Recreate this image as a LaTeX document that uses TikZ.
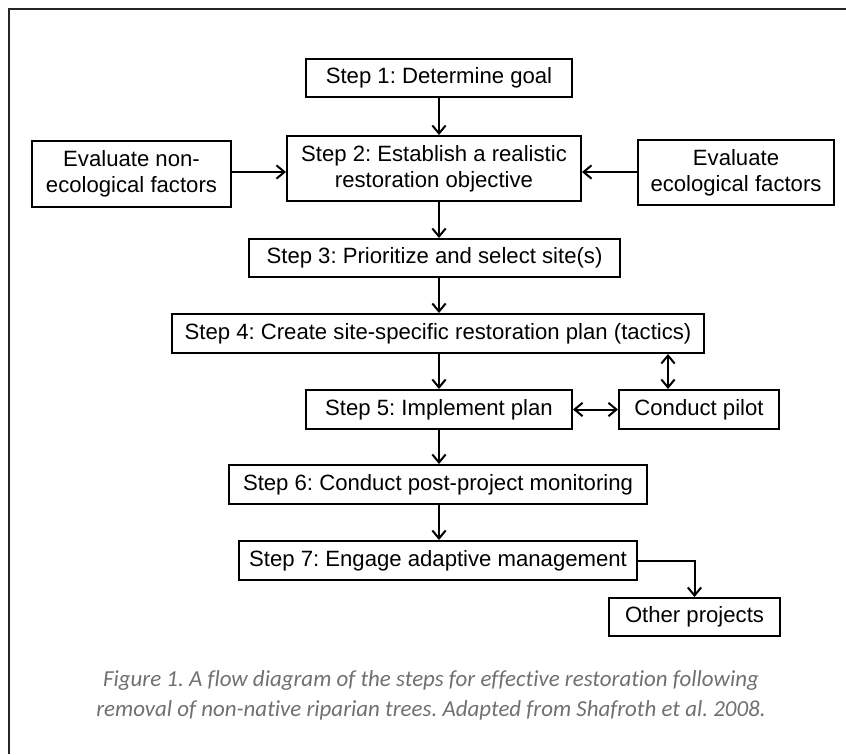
\documentclass[tikz,border=0pt]{standalone}
\usepackage{fontspec}
\setmainfont{Liberation Sans}
\newfontfamily\capfont[Ligatures=NoCommon]{Carlito}
\usepackage{tikz}
\usetikzlibrary{arrows.meta}
\definecolor{capgray}{RGB}{112,112,112}
\frenchspacing

\begin{document}
\begin{tikzpicture}[x=0.75pt, y=-0.75pt,
        stepbox/.style={draw, line width=1.5pt, align=center, inner sep=2pt,
            font=\fontsize{16.6}{19.5}\selectfont},
        flow/.style={line width=1.5pt, -{Straight Barb[length=6pt,width=10pt,line width=1.5pt]}},
        flowboth/.style={line width=1.5pt, {Straight Barb[length=6pt,width=10pt,line width=1.5pt]}-{Straight Barb[length=6pt,width=10pt,line width=1.5pt]}}]
        \useasboundingbox (0,0) rectangle (846,754);
        \draw[line width=1.2pt, black!85] (846,9) -- (9,9) -- (9,754);

        \node[stepbox, minimum width=199.5pt, minimum height=28.5pt] at (439,78) (step-1) {Step 1: Determine goal};
        \node[stepbox, minimum width=220.5pt, minimum height=48.75pt] at (434,168.5) (step-2) {Step 2: Establish a realistic\\restoration objective};
        \node[stepbox, minimum width=149.25pt, minimum height=49.5pt] at (131.5,174) (non-eco) {Evaluate non-\\ecological factors};
        \node[stepbox, minimum width=147pt, minimum height=48.75pt] at (736,172.5) (eco) {Evaluate\\ecological factors};
        \node[stepbox, minimum width=278.25pt, minimum height=28.5pt] at (434.5,258) (step-3) {Step 3: Prioritize and select site(s)};
        \node[stepbox, minimum width=399pt, minimum height=29.25pt] at (438,333.5) (step-4) {Step 4: Create site-specific restoration plan (tactics)};
        \node[stepbox, minimum width=199.5pt, minimum height=29.25pt] at (439,409.5) (step-5) {Step 5: Implement plan};
        \node[stepbox, minimum width=120pt, minimum height=29.25pt] at (699,409.5) (pilot) {Conduct pilot};
        \node[stepbox, minimum width=313.5pt, minimum height=29.25pt] at (438,484.5) (step-6) {Step 6: Conduct post-project monitoring};
        \node[stepbox, minimum width=298.5pt, minimum height=29.25pt] at (438,560.5) (step-7) {Step 7: Engage adaptive management};
        \node[stepbox, minimum width=128.25pt, minimum height=28.5pt] at (694.5,617) (other-projects) {Other projects};

        \coordinate (spine) at (439,0);
        \coordinate (pilot-tap) at (668,0);

        \draw[flow] (step-1.south -| spine) -- (step-2.north -| spine);
        \draw[flow] (non-eco.east |- 0,172) -- (step-2.west |- 0,172);
        \draw[flow] (eco.west |- 0,172) -- (step-2.east |- 0,172);
        \draw[flow] (step-2.south -| spine) -- (step-3.north -| spine);
        \draw[flow] (step-3.south -| spine) -- (step-4.north -| spine);
        \draw[flow] (step-4.south -| spine) -- (step-5.north -| spine);
        \draw[flowboth] (step-4.south -| pilot-tap) -- (pilot.north -| pilot-tap);
        \draw[flowboth] (step-5.east) -- (pilot.west);
        \draw[flow] (step-5.south -| spine) -- (step-6.north -| spine);
        \draw[flow] (step-6.south -| spine) -- (step-7.north -| spine);
        \draw[flow] (step-7.east) -| (other-projects.north);

        \node[align=center, text=capgray, font=\capfont\itshape\fontsize{17.2}{22.5}\selectfont] at (431,695) (caption) {Figure 1. A flow diagram of the steps for effective restoration following\\removal of non-native riparian trees. Adapted from Shafroth et al. 2008.};
    \end{tikzpicture}
\end{document}
